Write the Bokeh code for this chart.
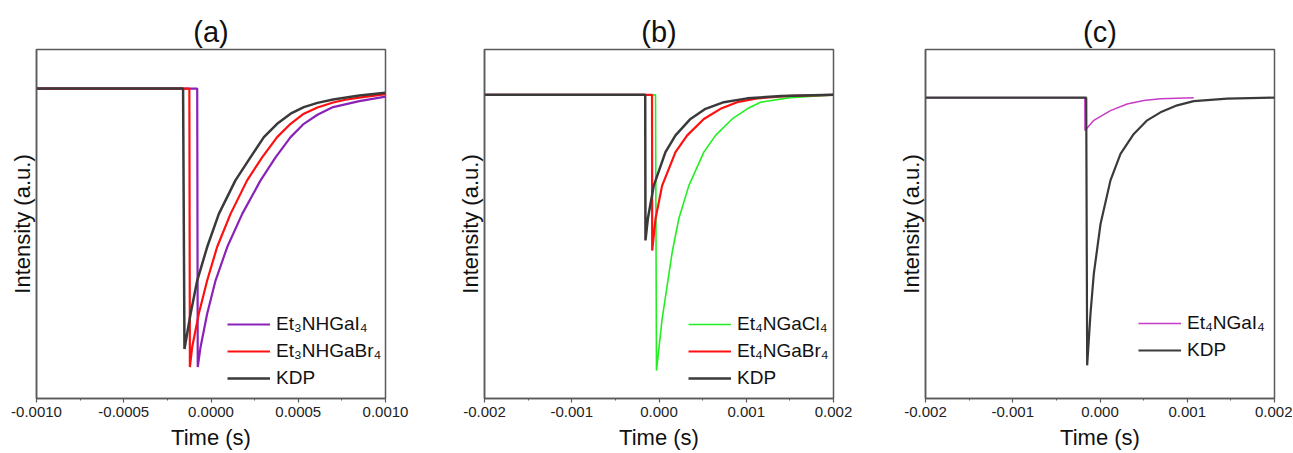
from bokeh.plotting import figure
from bokeh.layouts import row
from bokeh.models import Range1d, FixedTicker, Legend, LegendItem, PrintfTickFormatter
from bokeh.embed import file_html
from bokeh.resources import INLINE

FONT = "Liberation Sans"

# ---------------- data (time in s, intensity in arbitrary units) ----------------
titles = ["(a)", "(b)", "(c)"]

a_ticks = [-0.001, -0.0005, 0.0, 0.0005, 0.001]
a_minor = [-0.00075, -0.00025, 0.00025, 0.00075]
bc_ticks = [-0.002, -0.001, 0.0, 0.001, 0.002]
bc_minor = [-0.0015, -0.0005, 0.0005, 0.0015]

# panel (a)
a_pur_t = [-0.0010, -0.000079, -0.000076, -0.00006, -0.000022, 0.000026, 0.000093, 0.000179,
           0.000284, 0.00037, 0.000456, 0.000532, 0.00061, 0.0007, 0.00085, 0.0010]
a_pur_v = [0.888, 0.888, 0.090, 0.147, 0.243, 0.338, 0.434, 0.529,
           0.625, 0.691, 0.749, 0.787, 0.813, 0.835, 0.852, 0.865]
a_red_t = [-0.0010, -0.000124, -0.000121, -0.000108, -0.00007, -0.000022, 0.000035, 0.000112,
           0.000207, 0.000293, 0.000379, 0.000456, 0.000532, 0.00061, 0.0007, 0.00077,
           0.00085, 0.0010]
a_red_v = [0.888, 0.888, 0.090, 0.147, 0.243, 0.338, 0.434, 0.529,
           0.625, 0.691, 0.749, 0.787, 0.816, 0.834, 0.848, 0.856,
           0.862, 0.872]
a_kdp_t = [-0.0010, -0.00016, -0.000152, -0.000117, -0.000079, -0.000022, 0.000045, 0.00014,
           0.000226, 0.000303, 0.000379, 0.000456, 0.000532, 0.00061, 0.0007, 0.00085, 0.0010]
a_kdp_v = [0.888, 0.888, 0.142, 0.243, 0.338, 0.434, 0.529, 0.625,
           0.691, 0.749, 0.787, 0.816, 0.835, 0.847, 0.857, 0.868, 0.876]

# panel (b)
b_grn_t = [-0.002, -0.00004, -0.000029, 0.000036, 0.000094, 0.000151, 0.000227, 0.000342,
           0.000514, 0.000648, 0.000839, 0.001011, 0.001163, 0.0015, 0.002]
b_grn_v = [0.870, 0.870, 0.080, 0.228, 0.324, 0.419, 0.515, 0.610,
           0.706, 0.754, 0.801, 0.830, 0.849, 0.862, 0.870]
b_red_t = [-0.002, -0.00008, -0.000078, -0.00004, 0.000036, 0.000189, 0.000323, 0.000514,
           0.000705, 0.000896, 0.001125, 0.0015, 0.002]
b_red_v = [0.870, 0.870, 0.424, 0.515, 0.610, 0.706, 0.754, 0.801,
           0.830, 0.849, 0.860, 0.867, 0.870]
b_kdp_t = [-0.002, -0.000158, -0.000155, -0.000128, -0.00006, 0.000074, 0.000189, 0.000361,
           0.000533, 0.000743, 0.001011, 0.0014, 0.002]
b_kdp_v = [0.870, 0.870, 0.453, 0.515, 0.610, 0.706, 0.754, 0.801,
           0.830, 0.849, 0.860, 0.867, 0.870]

# panel (c)
c_mag_t = [-0.002, -0.000174, -0.000172, -0.000071, 0.00012, 0.000311, 0.000502, 0.000693, 0.001075]
c_mag_v = [0.862, 0.862, 0.768, 0.797, 0.825, 0.844, 0.854, 0.859, 0.862]
c_kdp_t = [-0.002, -0.000158, -0.000147, -0.000109, -0.000071, 0.000006, 0.00012, 0.000235,
           0.000387, 0.000541, 0.000693, 0.000885, 0.001075, 0.001458, 0.002]
c_kdp_v = [0.862, 0.862, 0.095, 0.243, 0.357, 0.500, 0.625, 0.701,
           0.758, 0.797, 0.820, 0.840, 0.852, 0.859, 0.862]

labels_a = ["Et\u2083NHGaI\u2084", "Et\u2083NHGaBr\u2084", "KDP"]
labels_b = ["Et\u2084NGaCl\u2084", "Et\u2084NGaBr\u2084", "KDP"]
labels_c = ["Et\u2084NGaI\u2084", "KDP"]

# ---------------- styling ----------------
FRAME = "#5a5a5a"
PURPLE = "#8B22B8"
RED = "#FF1010"
GRAY = "#3a3a3a"
GREEN = "#22EE22"
MAGENTA = "#C63CC6"
FIG_H = 452


def make_fig(title, width, bl, br, xr, ticks, minor, fmt):
    p = figure(width=width, height=FIG_H, x_range=Range1d(*xr), y_range=Range1d(0, 1),
               output_backend="svg", toolbar_location=None,
               min_border_left=bl, min_border_right=br, min_border_top=49,
               min_border_bottom=FIG_H - 49 - 349, title=title)
    p.title.text_font = FONT
    p.title.text_font_size = "29px"
    p.title.text_font_style = "normal"
    p.title.align = "center"
    p.title.text_color = "#111111"
    p.title.standoff = 4
    p.xgrid.visible = False
    p.ygrid.visible = False
    p.outline_line_color = FRAME
    p.outline_line_width = 1.5
    p.outline_line_alpha = 1
    p.background_fill_color = "white"
    p.border_fill_color = "white"

    xa = p.xaxis[0]
    xa.ticker = FixedTicker(ticks=ticks, minor_ticks=minor)
    xa.formatter = PrintfTickFormatter(format=fmt)
    xa.axis_label = "Time (s)"
    xa.axis_label_text_font = FONT
    xa.axis_label_text_font_size = "22px"
    xa.axis_label_text_font_style = "normal"
    xa.axis_label_text_color = "#111111"
    xa.axis_label_standoff = 5
    xa.major_label_text_font = FONT
    xa.major_label_text_font_size = "15px"
    xa.major_label_text_color = "#222222"
    xa.major_label_standoff = 4
    xa.axis_line_color = FRAME
    xa.axis_line_width = 1.5
    xa.major_tick_line_color = FRAME
    xa.major_tick_line_width = 1.2
    xa.major_tick_in = 0
    xa.major_tick_out = 4
    xa.minor_tick_line_color = FRAME
    xa.minor_tick_in = 0
    xa.minor_tick_out = 2

    ya = p.yaxis[0]
    ya.ticker = FixedTicker(ticks=[])
    ya.axis_label = "Intensity (a.u.)"
    ya.axis_label_text_font = FONT
    ya.axis_label_text_font_size = "22px"
    ya.axis_label_text_font_style = "normal"
    ya.axis_label_text_color = "#111111"
    ya.axis_label_standoff = 2
    ya.axis_line_color = FRAME
    ya.axis_line_width = 1.5
    ya.major_tick_out = 0
    ya.major_tick_in = 0
    ya.minor_tick_out = 0
    ya.minor_tick_in = 0
    ya.major_label_standoff = 0
    return p


def add_legend(p, items, loc):
    lg = Legend(items=items, location=loc)
    lg.background_fill_alpha = 0
    lg.border_line_alpha = 0
    lg.padding = 0
    lg.margin = 0
    lg.spacing = 3
    lg.label_height = 24
    lg.glyph_height = 24
    lg.glyph_width = 43
    lg.label_standoff = 6
    lg.label_text_font = FONT
    lg.label_text_font_size = "19px"
    lg.label_text_color = "#111111"
    p.add_layout(lg)


# panel (a)
pa = make_fig(titles[0], 440, 36, 55, (-0.001, 0.001), a_ticks, a_minor, "%.4f")
r1 = pa.line(a_pur_t, a_pur_v, line_color=PURPLE, line_width=2.2)
r2 = pa.line(a_red_t, a_red_v, line_color=RED, line_width=2.2)
r3 = pa.line(a_kdp_t, a_kdp_v, line_color=GRAY, line_width=2.5)
add_legend(pa, [LegendItem(label=labels_a[0], renderers=[r1]),
                LegendItem(label=labels_a[1], renderers=[r2]),
                LegendItem(label=labels_a[2], renderers=[r3])], (191, 8))

# panel (b)
pb = make_fig(titles[1], 440, 44, 47, (-0.002, 0.002), bc_ticks, bc_minor, "%.3f")
s1 = pb.line(b_grn_t, b_grn_v, line_color=GREEN, line_width=1.6)
s2 = pb.line(b_red_t, b_red_v, line_color=RED, line_width=2.2)
s3 = pb.line(b_kdp_t, b_kdp_v, line_color=GRAY, line_width=2.5)
add_legend(pb, [LegendItem(label=labels_b[0], renderers=[s1]),
                LegendItem(label=labels_b[1], renderers=[s2]),
                LegendItem(label=labels_b[2], renderers=[s3])], (204, 8))

# panel (c)
pc = make_fig(titles[2], 412, 45, 18, (-0.002, 0.002), bc_ticks, bc_minor, "%.3f")
u1 = pc.line(c_mag_t, c_mag_v, line_color=MAGENTA, line_width=1.5)
u2 = pc.line(c_kdp_t, c_kdp_v, line_color=GRAY, line_width=2.2)
add_legend(pc, [LegendItem(label=labels_c[0], renderers=[u1]),
                LegendItem(label=labels_c[1], renderers=[u2])], (213, 36))

layout = row(pa, pb, pc)
open("out.html", "w").write(file_html(layout, INLINE))
